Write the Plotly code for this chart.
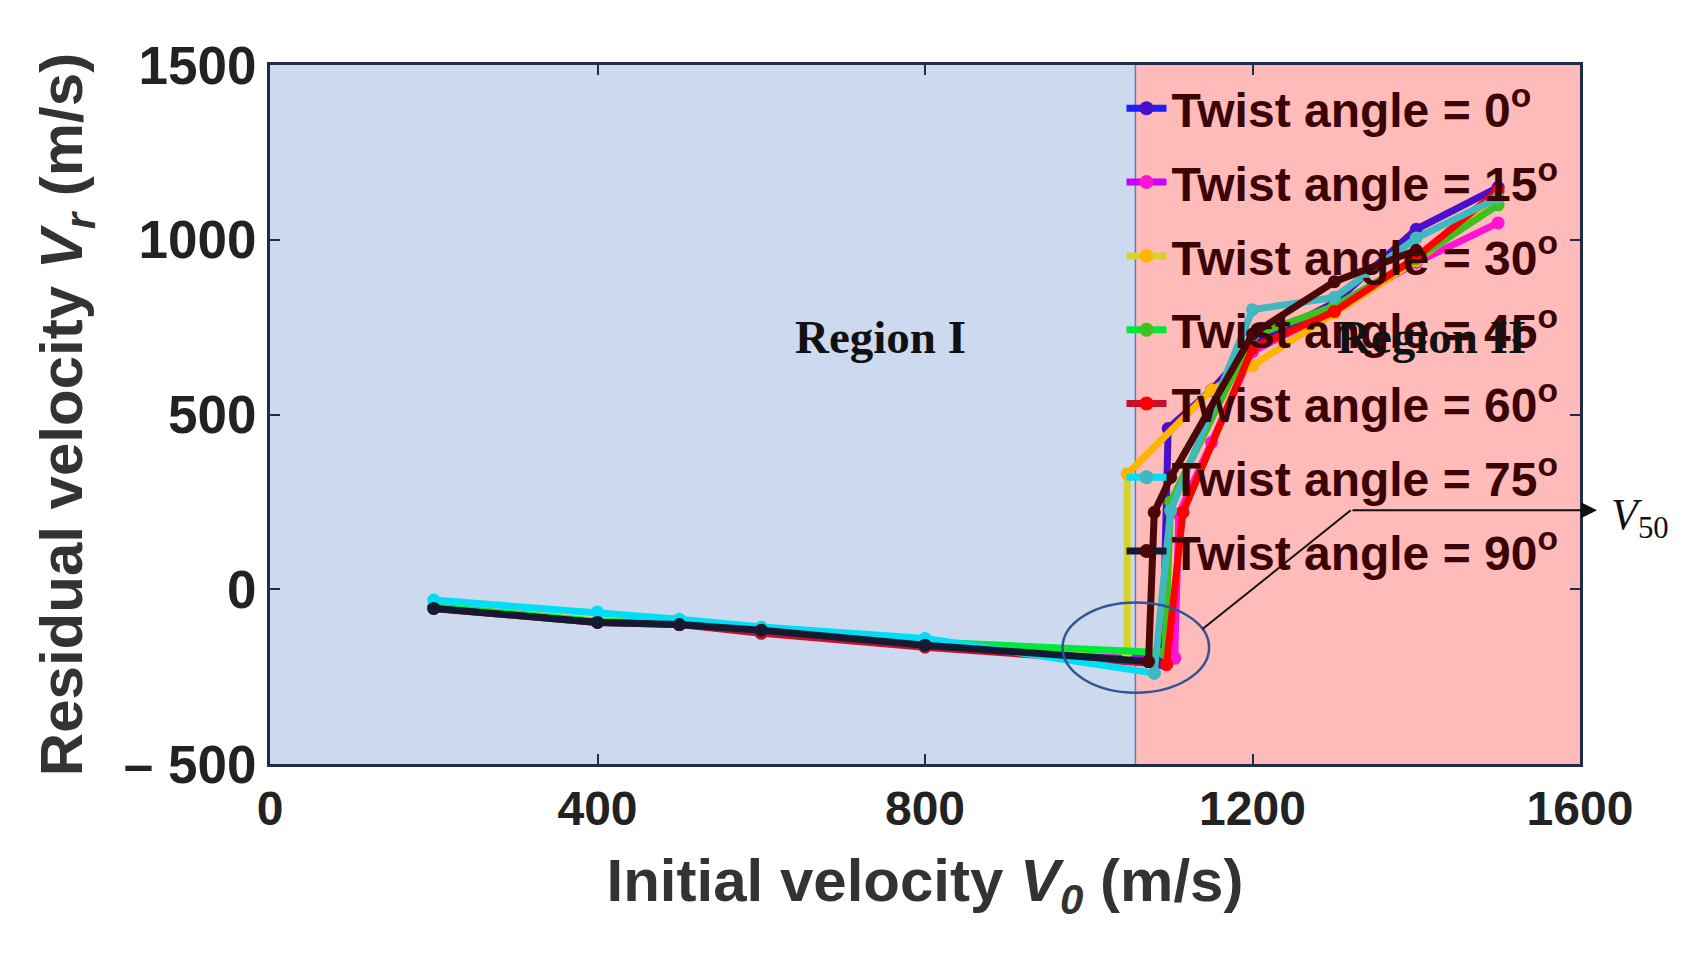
import plotly.graph_objects as go

# Residual velocity vs initial velocity for different twist angles
angles = ["0", "15", "30", "45", "60", "75", "90"]

# Region I part of every curve (drawn in the first colour of each pair)
low_x = {
    "0":  [200, 400, 500, 600, 800, 1090],
    "15": [200, 400, 500, 600, 800, 1105],
    "30": [200, 400, 500, 600, 800, 1047, 1047],
    "45": [200, 400, 500, 600, 800, 1093],
    "60": [200, 400, 500, 600, 800, 1095],
    "75": [200, 400, 500, 600, 800, 1080],
    "90": [200, 400, 500, 600, 800, 1073],
}
low_y = {
    "0":  [-52, -93, -100, -118, -158, -210],
    "15": [-52, -93, -100, -118, -158, -197],
    "30": [-50, -90, -98, -115, -155, -178, 330],
    "45": [-50, -92, -98, -115, -150, -182],
    "60": [-55, -95, -101, -126, -166, -215],
    "75": [-31, -65, -86, -108, -141, -240],
    "90": [-55, -95, -101, -117, -160, -207],
}

# Region II part of every curve (drawn in the second colour of each pair)
high_x = {
    "0":  [1090, 1097, 1150, 1200, 1300, 1400, 1500],
    "15": [1105, 1110, 1150, 1200, 1300, 1400, 1500],
    "30": [1047, 1150, 1200, 1300, 1400, 1500],
    "45": [1093, 1100, 1200, 1300, 1400, 1500],
    "60": [1095, 1115, 1200, 1300, 1400, 1500],
    "75": [1080, 1100, 1200, 1300, 1400, 1500],
    "90": [1073, 1080, 1100, 1200, 1300, 1400],
}
high_y = {
    "0":  [-210, 460, 570, 700, 820, 1030, 1150],
    "15": [-197, 215, 420, 680, 800, 935, 1048],
    "30": [330, 570, 640, 790, 940, 1110],
    "45": [-182, 250, 725, 810, 945, 1100],
    "60": [-215, 220, 690, 795, 950, 1140],
    "75": [-240, 225, 800, 835, 1005, 1120],
    "90": [-207, 220, 320, 730, 880, 970],
}

colors_a = {"0": "#1e1eff", "15": "#c800ff", "30": "#d4d42a", "45": "#00e83a",
            "60": "#c8102e", "75": "#00def5", "90": "#141a30"}
colors_b = {"0": "#4a0fcc", "15": "#ff14d2", "30": "#ffb400", "45": "#3cc21e",
            "60": "#ff0000", "75": "#3fb8bf", "90": "#4a0808"}

v50 = 1057

fig = go.Figure()

for a in angles:
    fig.add_trace(go.Scatter(
        x=low_x[a], y=low_y[a], mode="lines+markers",
        line=dict(color=colors_a[a], width=7),
        marker=dict(color=colors_a[a], size=13),
        showlegend=False, hoverinfo="x+y"))

for a in angles:
    fig.add_trace(go.Scatter(
        x=high_x[a], y=high_y[a], mode="lines+markers",
        line=dict(color=colors_b[a], width=7),
        marker=dict(color=colors_b[a], size=13),
        showlegend=False, hoverinfo="x+y"))

# legend entries only
for a in angles:
    fig.add_trace(go.Scatter(
        x=[None], y=[None], mode="lines+markers",
        name="Twist angle = " + a + "<sup>o</sup>",
        legendgroup=a,
        line=dict(color=colors_a[a], width=7),
        marker=dict(color=colors_b[a], size=14)))

shapes = [
    dict(type="rect", xref="x", yref="y", x0=0, x1=v50, y0=-500, y1=1500,
         fillcolor="#cdd9ef", line_width=0, layer="below"),
    dict(type="rect", xref="x", yref="y", x0=v50, x1=1600, y0=-500, y1=1500,
         fillcolor="#ffbaba", line_width=0, layer="below"),
    dict(type="line", xref="x", yref="y", x0=v50, x1=v50, y0=-500, y1=1500,
         line=dict(color="#5b7fc0", width=1.5), layer="below"),
    # ellipse round the jump
    dict(type="circle", xref="x", yref="y", x0=968, x1=1147, y0=-296, y1=-38,
         line=dict(color="#2f5597", width=2.5)),
    dict(type="line", xref="x", yref="y", x0=1139, y0=-114, x1=1320, y1=226,
         line=dict(color="#111111", width=2)),
]

annotations = [
    dict(text="<b>Region I</b>", x=746, y=723, xref="x", yref="y", showarrow=False,
         font=dict(family="Liberation Serif", size=47, color="#111111")),
    dict(text="<b>Region II</b>", x=1419, y=723, xref="x", yref="y", showarrow=False,
         font=dict(family="Liberation Serif", size=47, color="#111111")),
    dict(text="", x=1.013, y=0.363, xref="paper", yref="paper",
         ax=-246, ay=0, axref="pixel", ayref="pixel", showarrow=True,
         arrowhead=2, arrowsize=1.6, arrowwidth=2, arrowcolor="#111111"),
    dict(text="<i>V</i><sub>50</sub>", x=1.022, y=0.352, xref="paper", yref="paper",
         xanchor="left", showarrow=False,
         font=dict(family="Liberation Serif", size=44, color="#111111")),
]

x_tick_font = dict(family="Liberation Sans", size=48, color="#222222", weight="bold")
y_tick_font = dict(family="Liberation Sans", size=53, color="#222222", weight="bold")
title_font = dict(family="Liberation Sans", size=60, color="#333333", weight="bold")

fig.update_layout(
    width=1694, height=956,
    margin=dict(l=262, r=122, t=57, b=200),
    paper_bgcolor="white", plot_bgcolor="white",
    shapes=shapes, annotations=annotations,
    legend=dict(x=0.65, y=0.992, xanchor="left", yanchor="top",
                bgcolor="rgba(0,0,0,0)", traceorder="grouped", tracegroupgap=8.4,
                font=dict(family="Liberation Sans", size=48, color="#3b0505", weight="bold"),
                itemwidth=40),
    xaxis=dict(range=[0, 1600], tickvals=[0, 400, 800, 1200, 1600],
               ticks="inside", ticklen=10, tickwidth=2, tickcolor="#1f2d4a",
               showline=True, linecolor="#1f2d4a", linewidth=3, mirror="ticks",
               showgrid=False, zeroline=False, tickfont=x_tick_font,
               title=dict(text="Initial velocity <i>V</i><sub><i>0</i></sub> (m/s)",
                          font=title_font, standoff=26)),
    yaxis=dict(range=[-500, 1500], tickvals=[-500, 0, 500, 1000, 1500],
               ticktext=["\u2013 500", "0", "500", "1000", "1500"],
               ticks="inside", ticklen=10, tickwidth=2, tickcolor="#1f2d4a",
               showline=True, linecolor="#1f2d4a", linewidth=3, mirror="ticks",
               showgrid=False, zeroline=False, tickfont=y_tick_font,
               title=dict(text="Residual velocity <i>V</i><sub><i>r</i></sub> (m/s)",
                          font=title_font, standoff=22)),
)

fig.write_html("out.html")
